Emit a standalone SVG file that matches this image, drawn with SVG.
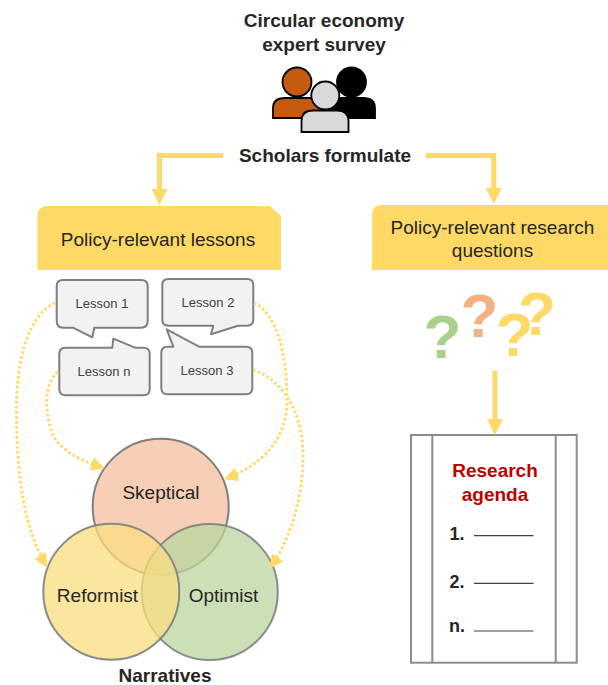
<svg xmlns="http://www.w3.org/2000/svg" width="608" height="685" viewBox="0 0 608 685">
<style>
text{font-family:"Liberation Sans",Arial,sans-serif;fill:#262626;text-anchor:middle}
.b{font-weight:700;font-size:19px}
.n{font-weight:700;font-size:18px}
.h{font-size:19px}
.l{font-size:13px;fill:#404040}
.bubble{fill:#F2F2F2;stroke:#7F7F7F;stroke-width:2;stroke-linejoin:round}
.hdr{fill:#FFD966}
.solid{fill:none;stroke:#FFD966;stroke-width:5}
.dot{fill:none;stroke:#FFD966;stroke-width:3;stroke-dasharray:2.5 2.5}
.circ{stroke:#7F7F7F;stroke-width:2}
.doc{fill:none;stroke:#8C8C8C;stroke-width:2}
.rule{stroke:#404040;stroke-width:1.2}
.q{font-weight:700;font-size:62px}
.person{stroke-width:1.8}
</style>
<defs>
<marker id="big" markerUnits="userSpaceOnUse" markerWidth="16" markerHeight="16" refX="0" refY="8" orient="auto"><path d="M0 0L16 8L0 16Z" fill="#FFD966"/></marker>
<marker id="small" markerUnits="userSpaceOnUse" markerWidth="14" markerHeight="14" refX="13" refY="7" orient="auto"><path d="M0 0L14 7L0 14Z" fill="#FFD966"/></marker>
</defs>

<g id="survey-title">
<text class="b" x="324" y="26.500">Circular economy</text>
<text class="b" x="324" y="50.500">expert survey</text>
</g>
<g id="people">
<path class="person" d="M273 118V108Q273 98 285 98H309Q321 98 321 108V118Z" fill="#C55A11" stroke="#000"/>
<circle class="person" cx="297" cy="82" r="14.500" fill="#C55A11" stroke="#000"/>
<path class="person" d="M327 118V108Q327 98 339 98H363Q375 98 375 108V118Z" fill="#000" stroke="#000"/>
<circle class="person" cx="351.500" cy="82" r="14.500" fill="#000" stroke="#000"/>
<path class="person" d="M301.500 132V121Q301.500 110.500 313 110.500H337Q348.500 110.500 348.500 121V132Z" fill="#D9D9D9" stroke="#000"/>
<circle class="person" cx="325.300" cy="95.500" r="14" fill="#D9D9D9" stroke="#000"/>
</g>
<g id="scholars"><text class="b" x="325" y="161.500">Scholars formulate</text></g>

<g id="lessons-header">
<path class="hdr" d="M37.500 270V216Q37.500 206 47.500 206H270L281 216V270Z"/>
<text class="h" x="158" y="245.500">Policy-relevant lessons</text>
</g>
<g id="questions-header">
<path class="hdr" d="M372 270V215Q372 205 382 205H608V270Z"/>
<text class="h" x="492.500" y="234">Policy-relevant research</text>
<text class="h" x="492.500" y="257">questions</text>
</g>

<g id="lesson-1">
<path class="bubble" d="M63 280H141Q147.700 280 147.700 286V321Q147.700 327.700 141 327.700H94.300L92.300 337.300L73 327.700H63Q56.700 327.700 56.700 321V286Q56.700 280 63 280Z"/>
<text class="l" x="102" y="308">Lesson 1</text>
</g>
<g id="lesson-2">
<path class="bubble" d="M168.500 279H247Q253.300 279 253.300 285V319.500Q253.300 325.700 247 325.700H238L211 334.300L213.300 325.700H168.500Q162.300 325.700 162.300 319.500V285Q162.300 279 168.500 279Z"/>
<text class="l" x="208" y="307">Lesson 2</text>
</g>
<g id="lesson-n">
<path class="bubble" d="M65.500 347.700H112.300L113.300 338.700L135 347.700H143.500Q149.700 347.700 149.700 354V389Q149.700 395.300 143.500 395.300H65.500Q59.300 395.300 59.300 389V354Q59.300 347.700 65.500 347.700Z"/>
<text class="l" x="104" y="376">Lesson n</text>
</g>
<g id="lesson-3">
<path class="bubble" d="M167.500 346.700H173.300L166.700 329.300L199 346.700H246Q252.300 346.700 252.300 353V388Q252.300 394.300 246 394.300H167.500Q161.300 394.300 161.300 388V353Q161.300 346.700 167.500 346.700Z"/>
<text class="l" x="207" y="375">Lesson 3</text>
</g>

<g id="skeptical">
<circle class="circ" cx="160.700" cy="506.700" r="68" fill="#F6CFB6"/>
</g>
<g id="optimist">
<circle class="circ" cx="209.800" cy="592" r="68" fill="#BAD69F" fill-opacity=".75" stroke-opacity=".9"/>
</g>
<g id="reformist">
<circle class="circ" cx="111.300" cy="591.700" r="68" fill="#FADE80" fill-opacity=".75" stroke-opacity=".9"/>
</g>
<g id="narrative-labels">
<text class="h" x="161" y="498.500">Skeptical</text>
<text class="h" x="97.500" y="602">Reformist</text>
<text class="h" x="223.500" y="602">Optimist</text>
<text class="b" x="165" y="682">Narratives</text>
</g>

<g id="question-marks">
<text class="q" x="442.500" y="358" style="fill:#A9D18E">?</text>
<text class="q" x="479.500" y="337" style="fill:#F4B183">?</text>
<text class="q" x="514.500" y="356" style="fill:#FFD966">?</text>
<text class="q" x="537" y="335" style="fill:#FFD966">?</text>
</g>

<g id="research-agenda">
<rect class="doc" x="411" y="435" width="165.700" height="227.700"/>
<path class="doc" d="M432.300 435V662.700M555.700 435V662.700"/>
<text class="b" x="495" y="477" style="fill:#C00000">Research</text>
<text class="b" x="495" y="501" style="fill:#C00000">agenda</text>
<text class="n" x="457" y="540">1.</text>
<text class="n" x="457" y="588">2.</text>
<text class="n" x="457" y="632">n.</text>
<path class="rule" d="M474 535.700H533.500M474 583.300H533.500M474 631H533.500"/>
</g>

<g id="connectors">
<path class="solid" d="M223 155.500H159.500V189" marker-end="url(#big)"/>
<path class="solid" d="M426 155.500H493.800V188" marker-end="url(#big)"/>
<path class="solid" d="M495 370.700V419" marker-end="url(#big)"/>
<path class="dot" d="M55 303C28 315 16.500 360 16.500 410C16.500 480 25 530 46.700 566.700" marker-end="url(#small)"/>
<path class="dot" d="M58 372C42 385 46 415 52 433C60 452 85 462 104 468" marker-end="url(#small)"/>
<path class="dot" d="M254 303C275 312 287 350 287 400C287 440 262 465 225 479" marker-end="url(#small)"/>
<path class="dot" d="M253 370C280 378 303 410 303 455C303 500 290 540 270 568" marker-end="url(#small)"/>
</g>
</svg>
